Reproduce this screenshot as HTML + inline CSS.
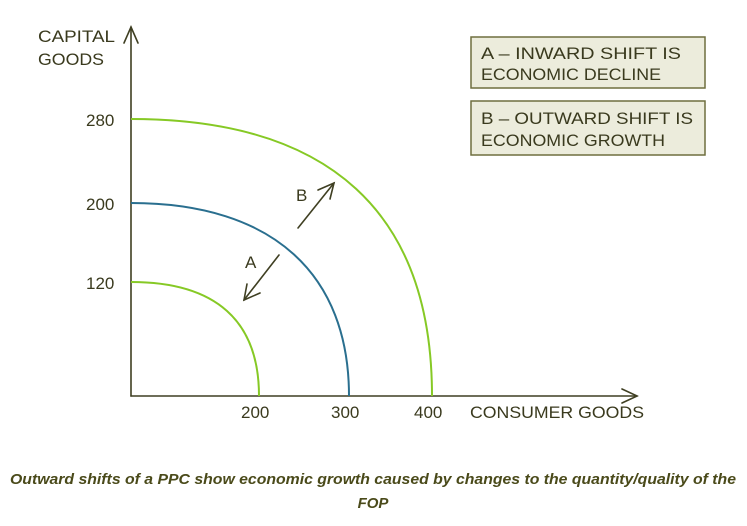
<!DOCTYPE html>
<html><head><meta charset="utf-8"><style>
html,body{margin:0;padding:0;background:#fff;}
svg{display:block;}
text{font-family:"Liberation Sans",sans-serif;fill:#3a3a1e;}
</style></head><body>
<svg width="747" height="526" viewBox="0 0 747 526" xmlns="http://www.w3.org/2000/svg">
<g stroke="#3f3f22" stroke-width="1.6" fill="none" stroke-linecap="round">
<line x1="131" y1="396" x2="131" y2="27"/>
<polyline points="124,43 131,27 138,43"/>
<line x1="131" y1="396" x2="637" y2="396"/>
<polyline points="622,389 637,396 622,403"/>
<line x1="298" y1="228" x2="334" y2="183"/>
<polyline points="318,190 334,183 330,199"/>
<line x1="279" y1="255" x2="244" y2="300"/>
<polyline points="247,284 244,300 260,293"/>
</g>
<g fill="none" stroke-width="2">
<path d="M131,119 C330,119 432,213 432,396" stroke="#86c925"/>
<path d="M131,203 C275,203 349,276 349,396" stroke="#2a6f8f"/>
<path d="M131,282 C216,282 259,321 259,396" stroke="#86c925"/>
</g>
<g font-size="17">
<text x="38" y="42" textLength="77" lengthAdjust="spacingAndGlyphs">CAPITAL</text>
<text x="38" y="65" textLength="66" lengthAdjust="spacingAndGlyphs">GOODS</text>
<text x="86" y="126">280</text>
<text x="86" y="210">200</text>
<text x="86" y="289">120</text>
<text x="241" y="418">200</text>
<text x="331" y="418">300</text>
<text x="414" y="418">400</text>
<text x="470" y="418" textLength="174" lengthAdjust="spacingAndGlyphs">CONSUMER GOODS</text>
<text x="296" y="201">B</text>
<text x="245" y="268">A</text>
</g>
<rect x="471" y="37" width="234" height="51" fill="#ececdc" stroke="#6f6f3e" stroke-width="1.5"/>
<rect x="471" y="101" width="234" height="54" fill="#ececdc" stroke="#6f6f3e" stroke-width="1.5"/>
<g font-size="17">
<text x="481" y="59" textLength="200" lengthAdjust="spacingAndGlyphs">A – INWARD SHIFT IS</text>
<text x="481" y="80" textLength="180" lengthAdjust="spacingAndGlyphs">ECONOMIC DECLINE</text>
<text x="481" y="124" textLength="212" lengthAdjust="spacingAndGlyphs">B – OUTWARD SHIFT IS</text>
<text x="481" y="146" textLength="184" lengthAdjust="spacingAndGlyphs">ECONOMIC GROWTH</text>
</g>
<g font-size="15" font-weight="bold" font-style="italic" text-anchor="middle">
<text x="373" y="484" textLength="726" lengthAdjust="spacingAndGlyphs" style="fill:#4a4a1a">Outward shifts of a PPC show economic growth caused by changes to the quantity/quality of the</text>
<text x="373" y="508" style="fill:#4a4a1a">FOP</text>
</g>
</svg>
</body></html>
